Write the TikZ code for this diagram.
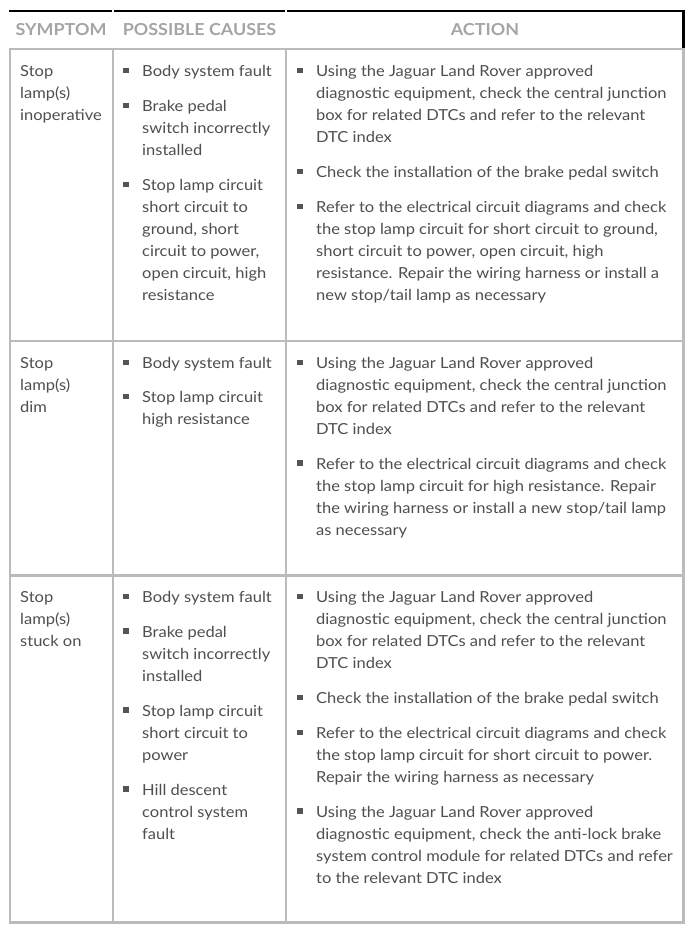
\documentclass[tikz,border=0pt]{standalone}
\usepackage{fontspec}
\setmainfont{Lato}[FakeStretch=1.085]
\definecolor{txt}{HTML}{4F4F4F}
\definecolor{hdr}{HTML}{A5A5A5}
\definecolor{gridc}{HTML}{BBBBBB}
\definecolor{bulc}{HTML}{555555}
\newcommand\tlines[4]{\foreach \t [count=\i] in {#4}{\node[txtline] (#1-\i) at (#2,{#3+22*(\i-1)}) {\t};}}
\newcommand\bul[3]{\node[bulsq] (#1) at (#2,{#3-6}) {};}
\begin{document}
\begin{tikzpicture}[x=1bp,y=-1bp,
  txtline/.style={anchor=base west,inner sep=0pt,text=txt,font=\fontsize{15.2bp}{18bp}\selectfont},
  bulsq/.style={rectangle,fill=bulc,minimum size=5.5bp,inner sep=0pt},
  hdrtxt/.style={anchor=base,inner sep=0pt,text=hdr,font=\bfseries\fontsize{16.5bp}{20bp}\selectfont},
  topline/.style={line width=2.2bp,black},
  gridline/.style={line width=2.4bp,gridc}]
\useasboundingbox[fill=white] (0,0) rectangle (690,930);
% header rules
\draw[topline] (9,11) -- (111.8,11);
\draw[topline] (113.6,11) -- (285.2,11);
\draw[topline] (287,11) -- (684.6,11);
\draw[topline] (683.5,10) -- (683.5,48);
% grid
\draw[gridline] (9,49) -- (684.7,49);
\draw[gridline] (9,341) -- (684.7,341);
\draw[gridline] (9,575.5) -- (684.7,575.5);
\draw[gridline] (9,922.5) -- (684.7,922.5);
\foreach \xx in {10,113,286,683.5} \draw[gridline] (\xx,48) -- (\xx,923.7);
% header text
\node[hdrtxt] (h1) at (61,35) {SYMPTOM};
\node[hdrtxt] (h2) at (199.5,35) {POSSIBLE CAUSES};
\node[hdrtxt] (h3) at (485,35) {ACTION};
% ---- row 1
\tlines{r1s}{20}{76.5}{Stop,lamp(s),inoperative}
\bul{r1cb1}{126}{76.5}\tlines{r1c1}{142}{76.5}{Body system fault}
\bul{r1cb2}{126}{111.5}\tlines{r1c2}{142}{111.5}{Brake pedal,switch incorrectly,installed}
\bul{r1cb3}{126}{190.5}\tlines{r1c3}{142}{190.5}{Stop lamp circuit,short circuit to,{ground, short},{circuit to power,},{open circuit, high},resistance}
\bul{r1ab1}{300}{76.5}\tlines{r1a1}{316}{76.5}{Using the Jaguar Land Rover approved,{diagnostic equipment, check the central junction},box for related DTCs and refer to the relevant,DTC index}
\bul{r1ab2}{300}{177.5}\tlines{r1a2}{316}{177.5}{Check the installation of the brake pedal switch}
\bul{r1ab3}{300}{212.5}\tlines{r1a3}{316}{212.5}{Refer to the electrical circuit diagrams and check,{the stop lamp circuit for short circuit to ground,},{short circuit to power, open circuit, high},resistance. Repair the wiring harness or install a,new stop/tail lamp as necessary}
% ---- row 2
\tlines{r2s}{20}{368.5}{Stop,lamp(s),dim}
\bul{r2cb1}{126}{368.5}\tlines{r2c1}{142}{368.5}{Body system fault}
\bul{r2cb2}{126}{402.5}\tlines{r2c2}{142}{402.5}{Stop lamp circuit,high resistance}
\bul{r2ab1}{300}{368.5}\tlines{r2a1}{316}{368.5}{Using the Jaguar Land Rover approved,{diagnostic equipment, check the central junction},box for related DTCs and refer to the relevant,DTC index}
\bul{r2ab2}{300}{469}\tlines{r2a2}{316}{469}{Refer to the electrical circuit diagrams and check,the stop lamp circuit for high resistance. Repair,the wiring harness or install a new stop/tail lamp,as necessary}
% ---- row 3
\tlines{r3s}{20}{602.5}{Stop,lamp(s),stuck on}
\bul{r3cb1}{126}{602.5}\tlines{r3c1}{142}{602.5}{Body system fault}
\bul{r3cb2}{126}{637}\tlines{r3c2}{142}{637}{Brake pedal,switch incorrectly,installed}
\bul{r3cb3}{126}{716}\tlines{r3c3}{142}{716}{Stop lamp circuit,short circuit to,power}
\bul{r3cb4}{126}{795}\tlines{r3c4}{142}{795}{Hill descent,control system,fault}
\bul{r3ab1}{300}{602.5}\tlines{r3a1}{316}{602.5}{Using the Jaguar Land Rover approved,{diagnostic equipment, check the central junction},box for related DTCs and refer to the relevant,DTC index}
\bul{r3ab2}{300}{703.3}\tlines{r3a2}{316}{703.3}{Check the installation of the brake pedal switch}
\bul{r3ab3}{300}{738.3}\tlines{r3a3}{316}{738.3}{Refer to the electrical circuit diagrams and check,{the stop lamp circuit for short circuit to power.},Repair the wiring harness as necessary}
\bul{r3ab4}{300}{817}\tlines{r3a4}{316}{817}{Using the Jaguar Land Rover approved,{diagnostic equipment, check the anti-lock brake},system control module for related DTCs and refer,to the relevant DTC index}
\end{tikzpicture}
\end{document}
